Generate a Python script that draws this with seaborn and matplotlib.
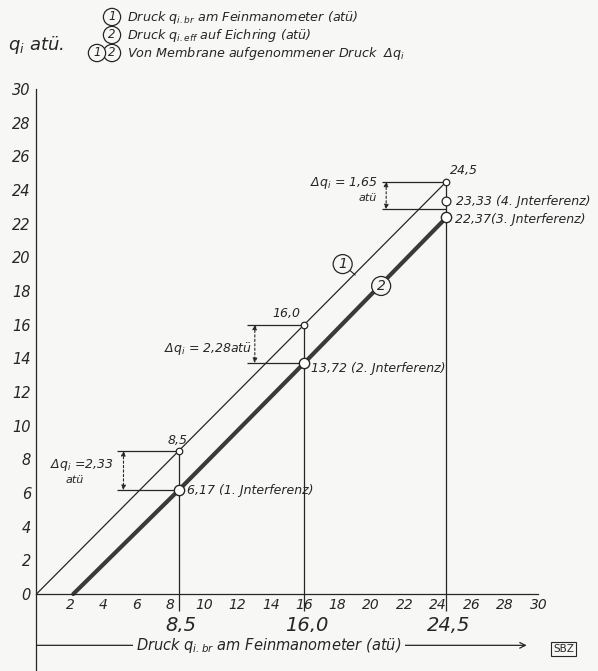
import numpy as np
import pandas as pd
import matplotlib
matplotlib.use("Agg")
import matplotlib.pyplot as plt
import seaborn as sns

# Werte aus dem Diagramm
q_br = [0.0, 8.5, 16.0, 24.5]            # Druck am Feinmanometer
x_eff = [2.2, 8.5, 16.0, 24.5]
q_eff = [0.0, 6.17, 13.72, 22.37]        # Druck auf Eichring
q_4int = 23.33                           # 4. Interferenz
dq = [2.33, 2.28, 1.65]
dq_text = ["2,33", "2,28", "1,65"]
x_ticks = list(range(2, 31, 2))
y_ticks = list(range(0, 31, 2))
big_labels = ["8,5", "16,0", "24,5"]
int_labels = ["6,17 (1. Jnterferenz)", "13,72 (2. Jnterferenz)",
              "22,37(3. Jnterferenz)", "23,33 (4. Jnterferenz)"]

sns.set_style("white")
plt.rcParams['font.family'] = ['DejaVu Sans']
plt.rcParams['font.style'] = 'italic'
plt.rcParams['mathtext.fontset'] = 'dejavusans'

ink = '#262626'
bg = '#f7f7f5'

fig = plt.figure(figsize=(5.98, 6.71), dpi=100, facecolor=bg)
ax = fig.add_axes([0, 0, 1, 1], facecolor=bg)

df1 = pd.DataFrame({"x": q_br, "y": q_br})
df2 = pd.DataFrame({"x": x_eff, "y": q_eff})
sns.lineplot(data=df1, x="x", y="y", ax=ax, color=ink, lw=0.9)
sns.lineplot(data=df2, x="x", y="y", ax=ax, color='#3a3a3a', lw=3.0)

# Fallinien bis unter die Achse
ax.vlines(q_br[1:], -1.0, q_br[1:], color=ink, lw=0.9)

# Messpunkte
sns.scatterplot(x=q_br[1:], y=q_br[1:], ax=ax, s=22, facecolor='white',
                edgecolor=ink, linewidth=0.9, zorder=5)
sns.scatterplot(x=x_eff[1:], y=q_eff[1:], ax=ax, s=55, facecolor='white',
                edgecolor=ink, linewidth=1.0, zorder=5)
sns.scatterplot(x=[q_br[3]], y=[q_4int], ax=ax, s=40, facecolor='white',
                edgecolor=ink, linewidth=0.9, zorder=5)

# Bemaßung Delta q
left_x = [4.8, 12.6, 20.65]
arrow_x = [5.2, 13.05, 20.9]
for i in range(3):
    top = q_br[i + 1]
    bot = top - dq[i]
    ax.hlines([top, bot], left_x[i], q_br[i + 1], color=ink, lw=0.9)
    ax.annotate('', xy=(arrow_x[i], bot), xytext=(arrow_x[i], top),
                arrowprops=dict(arrowstyle='<|-|>', color=ink, lw=0.8,
                                linestyle=(0, (2, 2)), mutation_scale=7,
                                shrinkA=0, shrinkB=0))

fs = 9
ax.text(4.6, 7.65, r'$\Delta q_i$ =' + dq_text[0], fontsize=fs, color=ink,
        va='center', ha='right')
ax.text(2.3, 6.75, 'atü', fontsize=fs - 1, color=ink, va='center', ha='center')
ax.text(12.9, 14.6, r'$\Delta q_i$ = ' + dq_text[1] + 'atü', fontsize=fs, color=ink,
        va='center', ha='right')
ax.text(20.4, 24.4, r'$\Delta q_i$ = ' + dq_text[2], fontsize=fs, color=ink,
        va='center', ha='right')
ax.text(19.8, 23.55, 'atü', fontsize=fs - 1, color=ink, va='center', ha='center')

# Werte an den Punkten
ax.text(8.45, 8.75, '8,5', fontsize=fs, color=ink, ha='center', va='bottom')
ax.text(15.8, 16.25, '16,0', fontsize=fs, color=ink, ha='right', va='bottom')
ax.text(24.7, 24.75, '24,5', fontsize=fs, color=ink, ha='left', va='bottom')
ax.text(9.0, q_eff[1], int_labels[0], fontsize=fs, color=ink, va='center')
ax.text(16.4, q_eff[2] - 0.3, int_labels[1], fontsize=fs, color=ink, va='center')
ax.text(25.0, q_eff[3] - 0.15, int_labels[2], fontsize=fs, color=ink, va='center')
ax.text(25.1, q_4int, int_labels[3], fontsize=fs, color=ink, va='center')

# Kurvennummern
circ = dict(boxstyle='circle,pad=0.18', fc=bg, ec=ink, lw=0.9)
ax.annotate('1', xy=(19.05, 18.95), xytext=(18.3, 19.6), fontsize=fs + 1, color=ink,
            ha='center', va='center', bbox=circ,
            arrowprops=dict(arrowstyle='-', color=ink, lw=0.8, shrinkA=0, shrinkB=0))
ax.annotate('2', xy=(20.3, 18.3), xytext=(20.6, 18.3), fontsize=fs + 1, color=ink,
            ha='center', va='center', bbox=circ,
            arrowprops=dict(arrowstyle='-', color=ink, lw=0.8, shrinkA=0, shrinkB=0))

# Große Werte unter der Achse
for xv, lab in zip(q_br[1:], big_labels):
    ax.text(xv + 0.15, -1.85, lab, fontsize=14, color=ink, ha='center', va='center')

# Achsen
ylo, yhi = -4.575, 35.29
ax.set_xlim(-2.18, 33.56)
ax.set_ylim(ylo, yhi)
for s in ['top', 'right']:
    ax.spines[s].set_visible(False)
ax.spines['left'].set_position(('data', 0))
ax.spines['bottom'].set_position(('data', 0))
ax.spines['left'].set_bounds(ylo, 30)
ax.spines['bottom'].set_bounds(0, 30)
for s in ['left', 'bottom']:
    ax.spines[s].set_color(ink)
    ax.spines[s].set_linewidth(0.9)
ax.set_xticks(x_ticks)
ax.set_yticks(y_ticks)
ax.set_xticklabels([str(v) for v in x_ticks])
ax.set_yticklabels([str(v) for v in y_ticks])
ax.tick_params(axis='x', direction='in', length=13, width=0.9, color=ink,
               labelsize=10, labelcolor=ink, pad=3)
ax.tick_params(axis='y', direction='in', length=14, width=0.9, color=ink,
               labelsize=10.5, labelcolor=ink, pad=4)
ax.set_xlabel('')
ax.set_ylabel('')

# Achsbeschriftung unten mit Pfeil
y_arr = -3.05
ax.annotate('', xy=(29.3, y_arr), xytext=(0, y_arr),
            arrowprops=dict(arrowstyle='->', color=ink, lw=0.9, shrinkA=0, shrinkB=0))
ax.text(13.9, y_arr, r'Druck $q_{i.br}$ am Feinmanometer (atü)', fontsize=10.5,
        color=ink, ha='center', va='center', zorder=6,
        bbox=dict(boxstyle='square,pad=0.25', fc=bg, ec='none'))
ax.text(31.5, -3.25, 'SBZ', fontsize=7.5, color=ink, ha='center', va='center',
        style='normal',
        bbox=dict(boxstyle='square,pad=0.2', fc='none', ec=ink, lw=0.8))

# Kopf
fig.text(8 / 598, 1 - 45 / 671, r'$q_i$ atü.', fontsize=13, color=ink, va='center')
legend_rows = [r'Druck $q_{i.br}$ am Feinmanometer (atü)',
               r'Druck $q_{i.eff}$ auf Eichring (atü)',
               r'Von Membrane aufgenommener Druck  $\Delta q_i$']
row_y = [17, 35, 53]
for lab, yy in zip(legend_rows, row_y):
    fig.text(127 / 598, 1 - yy / 671, lab, fontsize=9.2, color=ink, va='center')
fig.text(112 / 598, 1 - 17 / 671, '1', fontsize=8.5, color=ink, ha='center', va='center', bbox=circ)
fig.text(112 / 598, 1 - 35 / 671, '2', fontsize=8.5, color=ink, ha='center', va='center', bbox=circ)
fig.text(112 / 598, 1 - 53 / 671, '2', fontsize=8.5, color=ink, ha='center', va='center', bbox=circ)
fig.text(97 / 598, 1 - 53 / 671, '1', fontsize=8.5, color=ink, ha='center', va='center', bbox=circ)

fig.savefig('out.png', dpi=100, facecolor=bg)
